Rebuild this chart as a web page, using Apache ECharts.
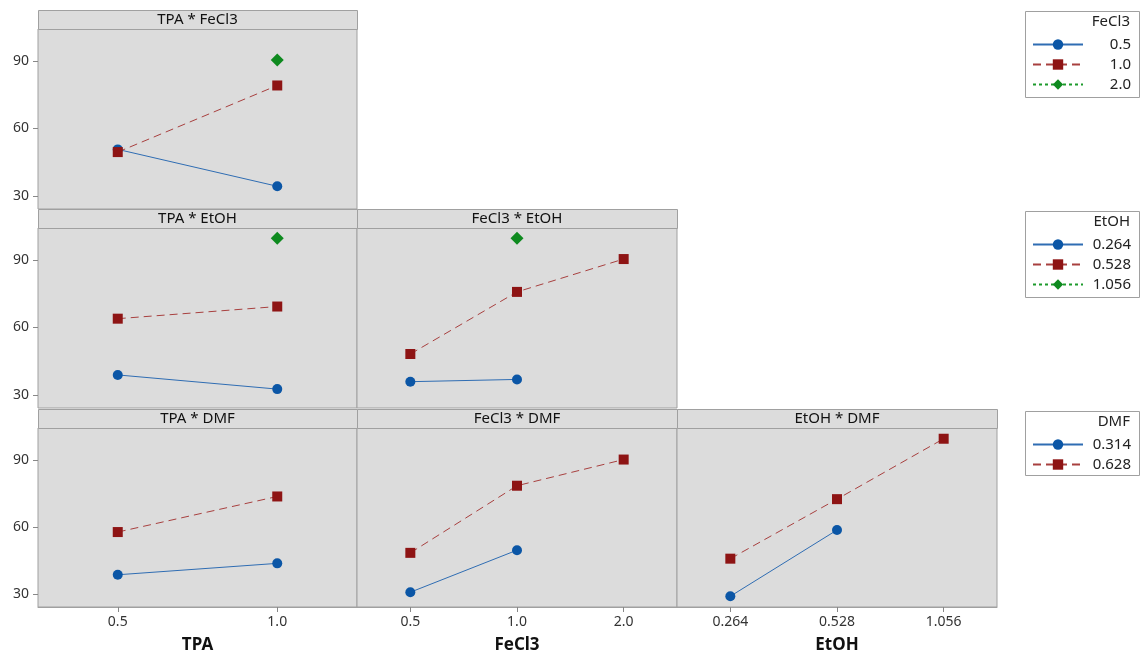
<!DOCTYPE html>
<html>
<head>
<meta charset="utf-8">
<title>Interaction Plot</title>
<script src="https://cdn.jsdelivr.net/npm/echarts@6/dist/echarts.min.js"></script>
<style>
  html, body { margin: 0; padding: 0; background: #fff; }
  #chart { width: 1140px; height: 656px; }
</style>
</head>
<body>
<div id="chart"></div>
<script>
// factor levels (x categories / trace levels)
const tpaLevels = ["0.5", "1.0"];
const fecl3Levels = ["0.5", "1.0", "2.0"];
const etohLevels = ["0.264", "0.528", "1.056"];
const dmfLevels = ["0.314", "0.628"];
const yTicks = [30, 60, 90];

// fitted means, "-" = combination not in the design
// TPA * FeCl3 (traces = FeCl3)
const tpaFecl3_05 = [50.7, 34.3];
const tpaFecl3_10 = [49.5, 79.1];
const tpaFecl3_20 = ["-", 90.4];
// TPA * EtOH (traces = EtOH)
const tpaEtoh_0264 = [38.9, 32.6];
const tpaEtoh_0528 = [63.9, 69.3];
const tpaEtoh_1056 = ["-", 99.6];
// FeCl3 * EtOH (traces = EtOH)
const fecl3Etoh_0264 = [35.9, 36.9, "-"];
const fecl3Etoh_0528 = [48.2, 75.8, 90.4];
const fecl3Etoh_1056 = ["-", 99.6, "-"];
// TPA * DMF (traces = DMF)
const tpaDmf_0314 = [38.6, 43.7];
const tpaDmf_0628 = [57.7, 73.6];
// FeCl3 * DMF
const fecl3Dmf_0314 = [30.8, 49.6, "-"];
const fecl3Dmf_0628 = [48.4, 78.4, 90.1];
// EtOH * DMF
const etohDmf_0314 = [29.0, 58.6, "-"];
const etohDmf_0628 = [45.8, 72.4, 99.4];

const fontFamily = "Noto Sans";
const colLeft = [38, 357, 677];
const colWidth = [319, 320, 320];
const rowTop = [29, 228, 428];
const rowHeight = [180, 180, 179];
const stripH = 19;

// line / marker styles by trace level index
const styles = [
  { symbol: "circle", symbolSize: 10, color: "#0b56a6", line: { color: "#2f6db3", type: "solid" } },
  { symbol: "rect", symbolSize: 10, color: "#8e1414", line: { color: "#a8403f", type: [8, 5] } },
  { symbol: "diamond", symbolSize: 13, color: "#0e8a1f", line: { color: "#1d9a2c", type: [3, 3] } },
];

const panels = [
  { row: 0, col: 0, title: "TPA * FeCl3", cats: tpaLevels, traces: fecl3Levels, data: [tpaFecl3_05, tpaFecl3_10, tpaFecl3_20] },
  { row: 1, col: 0, title: "TPA * EtOH", cats: tpaLevels, traces: etohLevels, data: [tpaEtoh_0264, tpaEtoh_0528, tpaEtoh_1056] },
  { row: 1, col: 1, title: "FeCl3 * EtOH", cats: fecl3Levels, traces: etohLevels, data: [fecl3Etoh_0264, fecl3Etoh_0528, fecl3Etoh_1056] },
  { row: 2, col: 0, title: "TPA * DMF", cats: tpaLevels, traces: dmfLevels, data: [tpaDmf_0314, tpaDmf_0628], xName: "TPA" },
  { row: 2, col: 1, title: "FeCl3 * DMF", cats: fecl3Levels, traces: dmfLevels, data: [fecl3Dmf_0314, fecl3Dmf_0628], xName: "FeCl3" },
  { row: 2, col: 2, title: "EtOH * DMF", cats: etohLevels, traces: dmfLevels, data: [etohDmf_0314, etohDmf_0628], xName: "EtOH" },
];

const grid = [], xAxis = [], yAxis = [], series = [], graphic = [];

panels.forEach((p, i) => {
  const left = colLeft[p.col], top = rowTop[p.row];
  const w = colWidth[p.col], h = rowHeight[p.row];
  const bottomRow = p.row === 2;
  const firstCol = p.col === 0;

  grid.push({
    left: left, top: top, width: w, height: h,
    show: true, backgroundColor: "#dcdcdc", borderColor: "#a0a0a0", borderWidth: 1,
  });

  xAxis.push({
    gridIndex: i,
    type: "category",
    data: p.cats,
    boundaryGap: true,
    show: bottomRow,
    name: p.xName || "",
    nameLocation: "middle",
    nameGap: 30,
    nameTextStyle: { fontFamily, fontSize: 17, fontWeight: "bold", color: "#111" },
    axisLine: { show: true, lineStyle: { color: "#a0a0a0" } },
    axisTick: { show: true, alignWithLabel: true, length: 5, lineStyle: { color: "#888" } },
    axisLabel: { fontFamily, fontSize: 14, color: "#333", margin: 8 },
    splitLine: { show: false },
  });

  yAxis.push({
    gridIndex: i,
    type: "value",
    min: 24.2,
    max: 104.2,
    axisLine: { show: false },
    axisTick: { show: firstCol, customValues: yTicks, length: 5, lineStyle: { color: "#888" } },
    axisLabel: { show: firstCol, customValues: yTicks, fontFamily, fontSize: 14, color: "#333", margin: 9 },
    splitLine: { show: false },
  });

  p.data.forEach((d, k) => {
    const s = styles[k];
    series.push({
      name: p.traces[k],
      type: "line",
      xAxisIndex: i,
      yAxisIndex: i,
      data: d,
      symbol: s.symbol,
      symbolSize: s.symbolSize,
      itemStyle: { color: s.color },
      lineStyle: { color: s.line.color, type: s.line.type, width: 1 },
      connectNulls: false,
      emphasis: { disabled: true },
      z: 3 + k,
    });
  });

  // strip with panel title
  graphic.push({
    type: "rect",
    shape: { x: left + 0.5, y: top - stripH + 0.5, width: w, height: stripH },
    style: { fill: "#dcdcdc", stroke: "#a0a0a0", lineWidth: 1 },
    z: 10,
  });
  graphic.push({
    type: "text",
    x: left + w / 2,
    y: top - stripH / 2,
    style: { text: p.title, fontFamily, fontSize: 15, fill: "#111", align: "center", verticalAlign: "middle" },
    z: 11,
  });
});

// legend boxes on the right
const legends = [
  { title: "FeCl3", names: fecl3Levels, boxTop: 11, boxH: 86 },
  { title: "EtOH", names: etohLevels, boxTop: 211, boxH: 86 },
  { title: "DMF", names: dmfLevels, boxTop: 411, boxH: 64 },
];

const legend = legends.map((lg) => {
  graphic.push({
    type: "rect",
    shape: { x: 1025.5, y: lg.boxTop + 0.5, width: 114, height: lg.boxH },
    style: { fill: "#fff", stroke: "#a0a0a0", lineWidth: 1 },
    z: 1,
  });
  graphic.push({
    type: "text",
    x: 1130,
    y: lg.boxTop + 11,
    style: { text: lg.title, fontFamily, fontSize: 15, fill: "#222", align: "right", verticalAlign: "middle" },
    z: 2,
  });
  return {
    data: lg.names,
    orient: "vertical",
    left: 1032,
    top: lg.boxTop + 26,
    padding: 0,
    itemWidth: 50,
    itemHeight: 13,
    itemGap: 5,
    selectedMode: false,
    formatter: (name) => "{v|" + name + "}",
    textStyle: {
      fontFamily, fontSize: 15, color: "#222",
      rich: { v: { width: 43, align: "right", fontFamily, fontSize: 15, color: "#222" } },
    },
  };
});

const chart = echarts.init(document.getElementById("chart"));
chart.setOption({
  animation: false,
  backgroundColor: "#fff",
  grid: grid,
  xAxis: xAxis,
  yAxis: yAxis,
  series: series,
  legend: legend,
  graphic: graphic,
});
</script>
</body>
</html>
